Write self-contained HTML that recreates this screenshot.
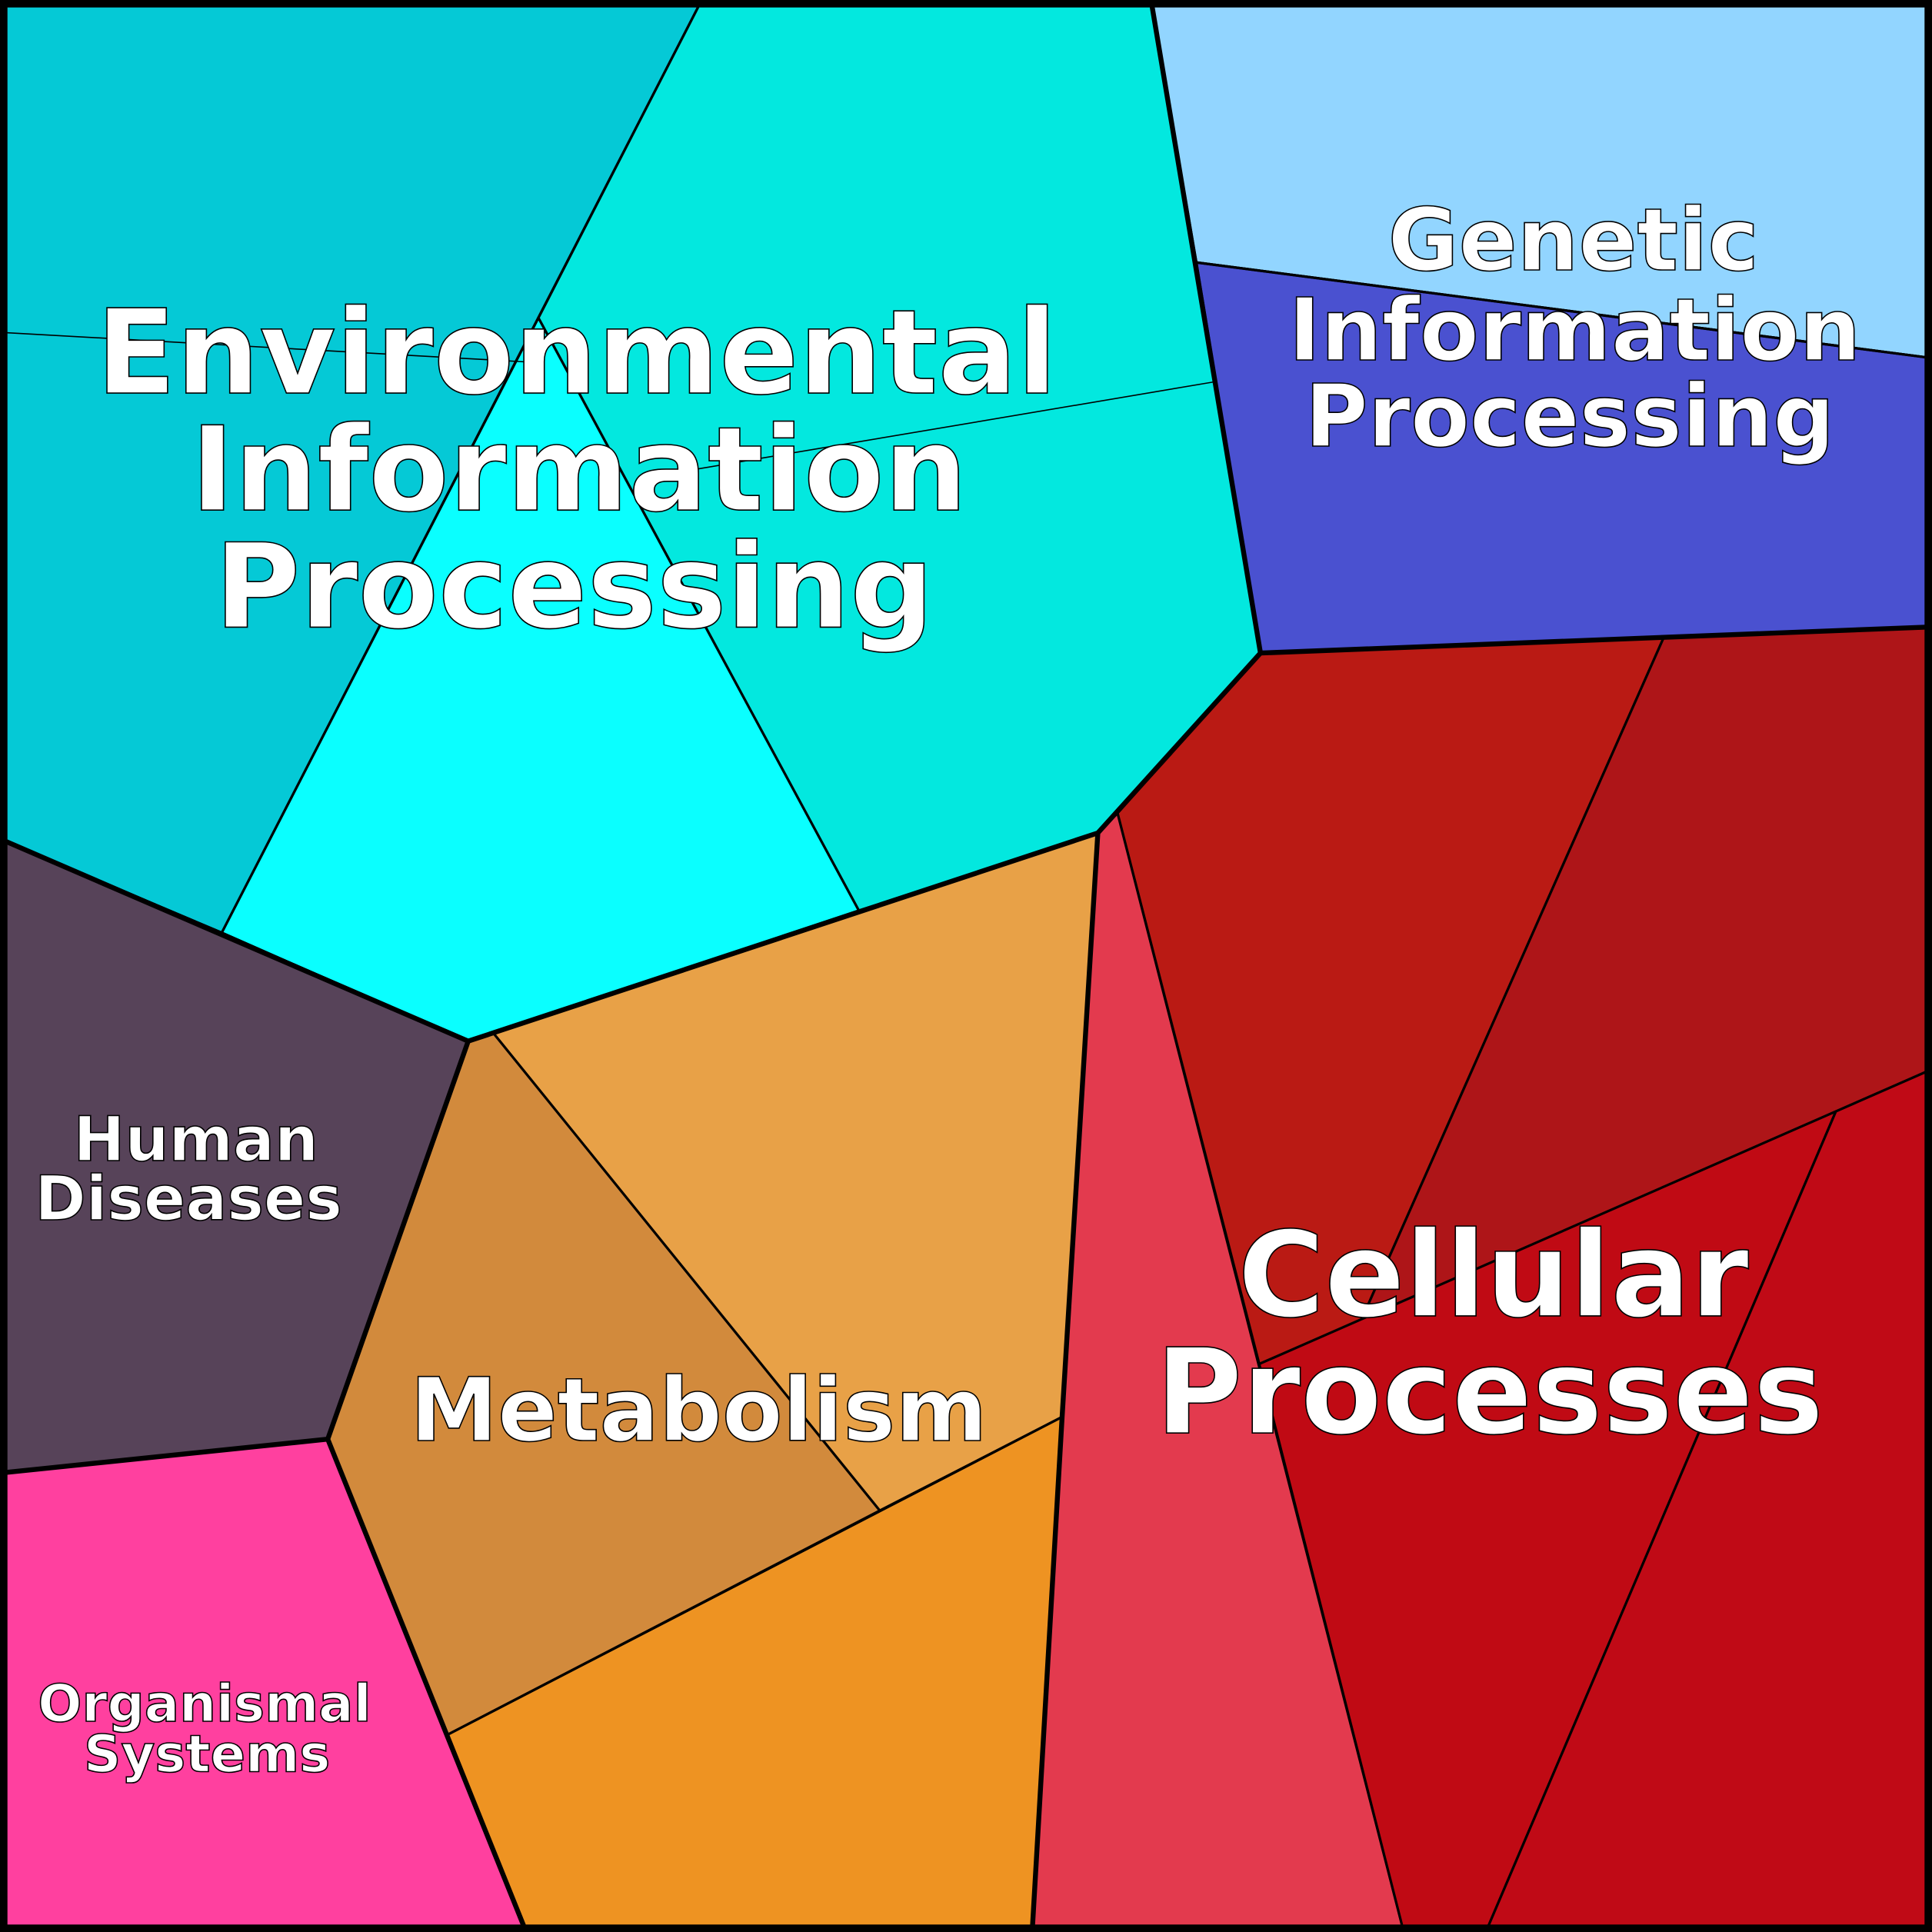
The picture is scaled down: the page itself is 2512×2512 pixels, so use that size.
<!DOCTYPE html>
<html><head><meta charset="utf-8"><style>
html,body{margin:0;padding:0;background:#fff}
svg{display:block}
text{font-family:"DejaVu Sans","Liberation Sans",sans-serif;font-weight:bold;fill:#fff;stroke:#000;stroke-width:1;text-anchor:middle;paint-order:normal}
</style></head><body>
<svg width="2512" height="2512" viewBox="0 0 1568 1568" xmlns="http://www.w3.org/2000/svg">
<rect x="0" y="0" width="1568" height="1568" fill="#000"/>
<g stroke="#000" stroke-width="2" stroke-linejoin="round">
<polygon points="5,5 567,5 180,757 5,683" fill="#05C9D6"/>
<polygon points="567,5 935,5 1023,530 891,676 697,739 437,258" fill="#03E8DF"/>
<polygon points="437,258 697,739 380,845 180,757" fill="#0AFFFF"/>
<polygon points="935,5 1563,5 1563,290 971,213" fill="#92D5FF"/>
<polygon points="971,213 1563,290 1563,509 1023,530" fill="#4A51D0"/>
<polygon points="907,660 1023,530 1350,518 1105,1071 1022,1107" fill="#BA1A14"/>
<polygon points="1350,518 1563,509 1563,870 1105,1071" fill="#AE1518"/>
<polygon points="891,676 907,660 1138,1563 838,1563 862,1150" fill="#E33A4E"/>
<polygon points="1022,1107 1490,902 1208,1563 1138,1563" fill="#C00A14"/>
<polygon points="1490,902 1563,870 1563,1563 1208,1563" fill="#C00A16"/>
<polygon points="380,845 891,676 862,1150 714,1226 400,838" fill="#E8A147"/>
<polygon points="380,845 400,838 714,1226 363,1408 266,1168" fill="#D28A3C"/>
<polygon points="363,1408 862,1150 838,1563 425,1563" fill="#EE9322"/>
<polygon points="5,683 180,757 380,845 266,1168 5,1195" fill="#574359"/>
<polygon points="5,1195 266,1168 425,1563 5,1563" fill="#FF409F"/>
</g>
<g stroke="#000" fill="none">
<line x1="5" y1="270" x2="432" y2="294" stroke-width="1"/>
<line x1="985" y1="310" x2="540" y2="385" stroke-width="1"/>
<line x1="400" y1="838" x2="714" y2="1226" stroke-width="1"/>
<line x1="1490" y1="902" x2="1208" y2="1563" stroke-width="1"/>
<polyline points="935,5 1023,530 891,676 380,845 5,683" stroke-width="4"/>
<polyline points="971,213 1563,290" stroke-width="2"/>
<polyline points="1023,530 1563,509" stroke-width="4"/>
<polyline points="891,676 862,1150 838,1563" stroke-width="4"/>
<polyline points="380,845 266,1168 5,1195" stroke-width="4"/>
<polyline points="266,1168 425,1563" stroke-width="4"/>
<rect x="3" y="3" width="1562" height="1562" stroke-width="6"/>
</g>
<text x="468" y="319" font-size="95">Environmental</text>
<text x="470" y="414" font-size="95">Information</text>
<text x="466" y="509" font-size="95">Processing</text>
<text x="1277" y="219" font-size="70">Genetic</text>
<text x="1278" y="292" font-size="70">Information</text>
<text x="1274" y="362" font-size="70">Processing</text>
<text x="1212" y="1068" font-size="96">Cellular</text>
<text x="1209" y="1163" font-size="96">Processes</text>
<text x="567" y="1169" font-size="71.5">Metabolism</text>
<text x="159" y="942" font-size="50">Human</text>
<text x="153" y="990" font-size="50">Diseases</text>
<text x="166" y="1397" font-size="42">Organismal</text>
<text x="168" y="1438" font-size="42">Systems</text>
</svg>
</body></html>
